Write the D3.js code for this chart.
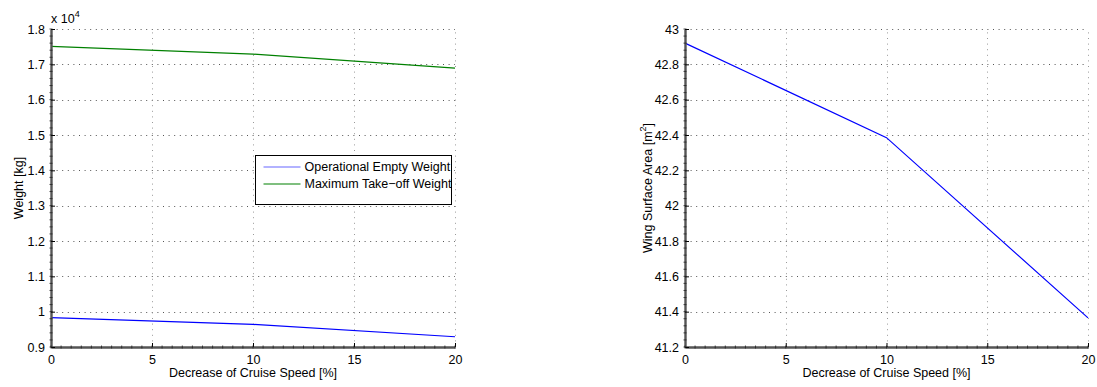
<!DOCTYPE html>
<html>
<head>
<meta charset="utf-8">
<script src="https://cdn.jsdelivr.net/npm/d3@7"></script>
<style>
  html, body { margin: 0; padding: 0; background: #fff; }
  svg { display: block; font-family: "Liberation Sans", Arial, Helvetica, sans-serif; }
</style>
</head>
<body>
<svg id="chart" width="1097" height="387"></svg>
<script>
// Cruise speed reduction study: weights and wing area
const speedDecrease = [0, 10, 20];
const xTicks = [0, 5, 10, 15, 20];

const operationalEmptyWeight = [9830, 9640, 9290];   // kg
const maxTakeoffWeight = [17510, 17290, 16890];      // kg
const weightTicks = [0.9, 1.0, 1.1, 1.2, 1.3, 1.4, 1.5, 1.6, 1.7, 1.8]; // x 10^4
const weightTickLabels = ["0.9", "1", "1.1", "1.2", "1.3", "1.4", "1.5", "1.6", "1.7", "1.8"];

const wingArea = [42.92, 42.385, 41.365];            // m^2
const areaTicks = [41.2, 41.4, 41.6, 41.8, 42.0, 42.2, 42.4, 42.6, 42.8, 43.0];
const areaTickLabels = ["41.2", "41.4", "41.6", "41.8", "42", "42.2", "42.4", "42.6", "42.8", "43"];

const legendLabels = ["Operational Empty Weight", "Maximum Take\u2212off Weight"];
const seriesColors = ["#0000ff", "#008000"];

const svg = d3.select("#chart");

function drawPanel(opts) {
  const x = d3.scaleLinear().domain([0, 20]).range([opts.left, opts.right]);
  const y = d3.scaleLinear().domain(opts.yDomain).range([opts.bottom, opts.top]);
  const g = svg.append("g");

  // dotted grid
  g.selectAll(".hgrid").data(opts.yTicks).join("line")
    .attr("x1", opts.left).attr("x2", opts.right)
    .attr("y1", d => Math.round(y(d)) + 0.5).attr("y2", d => Math.round(y(d)) + 0.5)
    .attr("stroke", "#555").attr("stroke-width", 1).attr("stroke-dasharray", "1,4.6");
  g.selectAll(".vgrid").data(xTicks).join("line")
    .attr("x1", d => Math.round(x(d)) + 0.5).attr("x2", d => Math.round(x(d)) + 0.5)
    .attr("y1", opts.bottom).attr("y2", opts.top)
    .attr("stroke", "#999").attr("stroke-width", 1).attr("stroke-dasharray", "1,4.6");

  // series lines
  const line = d3.line().x((d, i) => x(speedDecrease[i])).y(d => y(d));
  opts.series.forEach((s, k) => {
    g.append("path").datum(s.values)
      .attr("d", line)
      .attr("fill", "none")
      .attr("stroke", s.color)
      .attr("stroke-width", 1.2);
  });

  // axes (left and bottom only)
  const xAxis = d3.axisBottom(x).tickValues(xTicks).tickSizeInner(-4).tickSizeOuter(0).tickPadding(8)
    .tickFormat(d3.format("d"));
  const yAxis = d3.axisLeft(y).tickValues(opts.yTicks).tickSizeInner(-4).tickSizeOuter(0).tickPadding(6)
    .tickFormat((d, i) => opts.yTickLabels[i]);

  const gx = g.append("g").attr("transform", `translate(0,${opts.bottom})`).call(xAxis);
  const gy = g.append("g").attr("transform", `translate(${opts.left},0)`).call(yAxis);
  [gx, gy].forEach(a => {
    a.select(".domain").attr("stroke", "#555").attr("stroke-width", 2.4);
    a.selectAll(".tick line").attr("stroke", "#000").attr("stroke-width", 1);
    a.selectAll("text").attr("fill", "#000").attr("font-size", 12.5)
      .attr("font-family", "Liberation Sans, Arial, sans-serif");
  });
  gx.selectAll("text").attr("dy", "0.71em");

  // minor ticks along the axes
  const minorX = d3.range(0, 20.001, 0.5);
  g.selectAll(".mx").data(minorX).join("line")
    .attr("x1", d => x(d)).attr("x2", d => x(d))
    .attr("y1", opts.bottom - 1.5).attr("y2", opts.bottom + 1.5)
    .attr("stroke", "#222").attr("stroke-width", 0.8);
  const yMinorStep = (opts.yDomain[1] - opts.yDomain[0]) / 45;
  const minorY = d3.range(0, 46).map(i => opts.yDomain[0] + i * yMinorStep);
  g.selectAll(".my").data(minorY).join("line")
    .attr("x1", opts.left - 1.5).attr("x2", opts.left + 1.5)
    .attr("y1", d => y(d)).attr("y2", d => y(d))
    .attr("stroke", "#222").attr("stroke-width", 0.8);

  // axis titles
  g.append("text")
    .attr("x", (opts.left + opts.right) / 2).attr("y", 377)
    .attr("text-anchor", "middle").attr("font-size", 12.5)
    .text("Decrease of Cruise Speed [%]");

  return { g, x, y };
}

// Left panel: weights
const left = drawPanel({
  left: 51, right: 455, top: 29, bottom: 347,
  yDomain: [0.9, 1.8], yTicks: weightTicks, yTickLabels: weightTickLabels,
  series: [
    { values: operationalEmptyWeight.map(v => v / 1e4), color: seriesColors[0] },
    { values: maxTakeoffWeight.map(v => v / 1e4), color: seriesColors[1] }
  ]
});
left.g.append("text")
  .attr("transform", "translate(23,188) rotate(-90)")
  .attr("text-anchor", "middle").attr("font-size", 12.5)
  .text("Weight [kg]");
const expo = left.g.append("text").attr("x", 51).attr("y", 23).attr("font-size", 12.5);
expo.append("tspan").text("x 10");
expo.append("tspan").attr("dy", -6).attr("font-size", 9).text("4");

// legend
const lg = left.g.append("g").attr("transform", "translate(255.5,155.5)");
lg.append("rect").attr("width", 196).attr("height", 49)
  .attr("fill", "#fff").attr("stroke", "#000").attr("stroke-width", 1);
legendLabels.forEach((t, i) => {
  const yy = 11.5 + i * 17;
  lg.append("line").attr("x1", 8).attr("x2", 45).attr("y1", yy).attr("y2", yy)
    .attr("stroke", seriesColors[i]).attr("stroke-width", 1.2)
    .attr("stroke-opacity", i === 0 ? 0.6 : 1);
  lg.append("text").attr("x", 49).attr("y", yy).attr("dy", "0.35em")
    .attr("font-size", 12.5).text(t);
});

// Right panel: wing area
const right = drawPanel({
  left: 685, right: 1088, top: 29, bottom: 347,
  yDomain: [41.2, 43.0], yTicks: areaTicks, yTickLabels: areaTickLabels,
  series: [{ values: wingArea, color: seriesColors[0] }]
});
const yl = right.g.append("text")
  .attr("transform", "translate(652,188) rotate(-90)")
  .attr("text-anchor", "middle").attr("font-size", 12.5);
yl.append("tspan").text("Wing Surface Area [m");
yl.append("tspan").attr("dy", -6).attr("font-size", 9).text("2");
yl.append("tspan").attr("dy", 6).text("]");
</script>
</body>
</html>
